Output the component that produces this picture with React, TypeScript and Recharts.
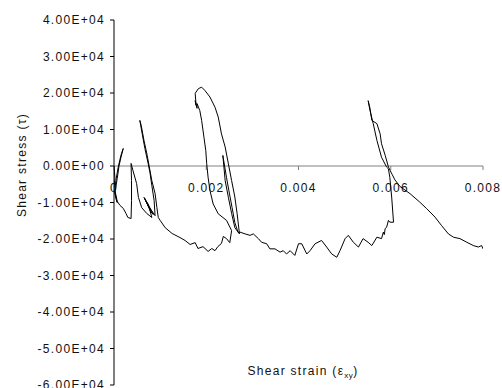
import React from 'react';
import { LineChart, Line, XAxis, YAxis, ReferenceLine } from 'recharts';

// [shear strain, shear stress] pairs, in drawing order
const originLoop: [number, number][] = [
  [0, 0], [0.00002, -3400], [0.0, -6200], [0.00004, -8900], [0.00007, -10000],
  [0.00002, -7300], [0.00007, -3400], [0.00011, 100], [0.00015, 2300], [0.0002, 4800],
  [0.00015, 2900], [0.00009, -400], [0.00004, -4000], [0.00002, -6700], [0.00007, -9700],
  [0.00013, -10800], [0.0002, -11600], [0.00026, -13000], [0.0003, -14100], [0.00037, -14400],
  [0.00038, -9500], [0.00038, -4000], [0.00037, 700], [0.00041, -1200], [0.00049, -4800],
  [0.00053, -8600], [0.0006, -11400], [0.00071, -13000], [0.00082, -14100],
];

const firstSpike: [number, number][] = [
  [0.00078, -12200], [0.00085, -13300], [0.00072, -10000], [0.0008, -12700], [0.00067, -8900],
  [0.00076, -11400], [0.00065, -8600], [0.00074, -10800], [0.00089, -13600], [0.00087, -9500],
  [0.00082, -5300], [0.00078, -1800], [0.00074, 700], [0.00067, 4800], [0.00061, 8900],
  [0.00056, 12500], [0.00059, 11100], [0.00065, 7000], [0.00072, 2900], [0.00076, 100],
  [0.00082, -4000], [0.00089, -7500], [0.00093, -11400], [0.00096, -14100], [0.001, -14900],
  [0.00111, -16900], [0.00126, -18500], [0.00143, -19600],
];

const envelopeA: [number, number][] = [
  [0.00154, -20400], [0.00165, -21500], [0.00176, -21000], [0.00182, -22600], [0.00193, -22100],
  [0.00204, -23400], [0.00212, -22600], [0.00219, -23200], [0.00225, -22100], [0.00233, -21200],
  [0.00237, -19300], [0.00244, -19900], [0.00251, -21000], [0.00255, -17700],
];

const secondLoop: [number, number][] = [
  [0.00244, -14900], [0.00226, -13100], [0.00215, -10400], [0.00208, -6700], [0.00204, -3100],
  [0.00201, 600], [0.00199, 4200], [0.00195, 7900], [0.0019, 12500], [0.00186, 15200],
  [0.0018, 17100], [0.0018, 15800], [0.00176, 17900], [0.00178, 16600], [0.00176, 19900],
  [0.00183, 21200], [0.0019, 21600], [0.00197, 20700], [0.00208, 18900], [0.00219, 16100],
  [0.00226, 13400], [0.00233, 8800], [0.00241, 5200], [0.00248, 600], [0.00255, -4000],
  [0.00262, -8500], [0.00267, -13100], [0.00272, -18600], [0.00262, -16900], [0.00255, -13000],
  [0.00248, -8600], [0.00241, -4000], [0.00236, 2900], [0.00237, 2100], [0.00244, -3200],
  [0.00249, -6700], [0.00256, -11400], [0.00262, -15500], [0.00269, -18200],
];

const envelopeB: [number, number][] = [
  [0.00273, -18100], [0.00284, -18600], [0.00295, -19000], [0.00302, -18600], [0.00313, -19900],
  [0.0032, -20900], [0.00331, -21300], [0.00338, -22700], [0.00349, -22700], [0.0036, -23600],
  [0.00367, -23200], [0.00374, -24100], [0.00382, -23200], [0.00392, -24500], [0.004, -21300],
  [0.00407, -21300], [0.00418, -24100], [0.00425, -23200], [0.00436, -21300], [0.0045, -20400],
  [0.00461, -22200], [0.00472, -24100], [0.00483, -25000], [0.0049, -23200], [0.00501, -19900],
  [0.00508, -19000], [0.00519, -20900], [0.0053, -22200], [0.0054, -19900], [0.00551, -20900],
  [0.00559, -21800], [0.0057, -19500], [0.0058, -19900], [0.00584, -18100], [0.00586, -18800],
  [0.00588, -17100], [0.00591, -16800], [0.00595, -14900], [0.00598, -15400], [0.00606, -15400],
];

const thirdLoop: [number, number][] = [
  [0.00602, -8500], [0.00598, -3100], [0.00595, -800], [0.00591, -300], [0.0058, 2400],
  [0.0057, 7000], [0.00562, 11600], [0.00555, 15200], [0.00551, 17900], [0.00555, 15800],
  [0.00559, 12500], [0.0057, 11600], [0.00577, 8800], [0.0058, 6100], [0.00588, 2900],
  [0.00595, -300], [0.00603, -2300], [0.00609, -3800], [0.0062, -5600], [0.00642, -7600],
  [0.00663, -9900], [0.00678, -11700], [0.00696, -14000], [0.0071, -16300], [0.00725, -18600],
  [0.00736, -19500], [0.0075, -19900], [0.00765, -20900], [0.00779, -21800], [0.0079, -22200],
  [0.00797, -21800], [0.008, -22700],
];

const xTicks = [0, 0.002, 0.004, 0.006, 0.008];
const xTickLabels = ['0', '0.002', '0.004', '0.006', '0.008'];
const yTicks = [40000, 30000, 20000, 10000, 0, -10000, -20000, -30000, -40000, -50000, -60000];

const data = [...originLoop, ...firstSpike, ...envelopeA, ...secondLoop, ...envelopeB, ...thirdLoop].map(
  ([x, y]) => ({ x, y })
);

const fmtSci = (v: number) => {
  const [m, e] = v.toExponential(2).split('e');
  return `${m}E${e[0]}${e.slice(1).padStart(2, '0')}`;
};

const font = { fontFamily: 'Arial, "Liberation Sans", sans-serif', fontSize: 12, letterSpacing: 1.3 };

export default function App() {
  return (
    <div style={{ position: 'absolute', left: 0, top: 0, width: 502, height: 388, background: '#fff' }}>
      <LineChart width={502} height={388} data={data} margin={{ top: 20, right: 19, bottom: 3, left: 0 }}>
        <XAxis dataKey="x" type="number" domain={[0, 0.008]} ticks={xTicks} hide allowDataOverflow />
        <YAxis
          type="number"
          domain={[-60000, 40000]}
          ticks={yTicks}
          width={114}
          tickFormatter={fmtSci}
          tickSize={4}
          tickMargin={5}
          axisLine={{ stroke: '#000' }}
          tickLine={{ stroke: '#000' }}
          tick={{ fill: '#111', ...font }}
          interval={0}
        />
        <ReferenceLine y={0} stroke="#808080" strokeWidth={1} />
        {xTicks.map((t, i) => (
          <ReferenceLine
            key={t}
            segment={[{ x: t, y: 0 }, { x: t, y: -1100 }]}
            stroke="#808080"
            label={{ value: xTickLabels[i], position: 'bottom', offset: 13, fill: '#111', ...font }}
          />
        ))}
        <Line
          type="linear"
          dataKey="y"
          stroke="#000"
          strokeWidth={1}
          dot={false}
          isAnimationActive={false}
        />
      </LineChart>
      <div
        style={{
          position: 'absolute',
          left: 21.5,
          top: 165,
          transform: 'translate(-50%, -50%) rotate(-90deg)',
          whiteSpace: 'nowrap',
          color: '#111',
          ...font,
        }}
      >
        Shear stress (τ)
      </div>
      <div
        style={{
          position: 'absolute',
          left: 303,
          top: 372,
          transform: 'translate(-50%, -50%)',
          whiteSpace: 'nowrap',
          color: '#111',
          ...font,
        }}
      >
        Shear strain (ε<sub style={{ fontSize: 8, letterSpacing: 0.5 }}>xy</sub>)
      </div>
    </div>
  );
}
